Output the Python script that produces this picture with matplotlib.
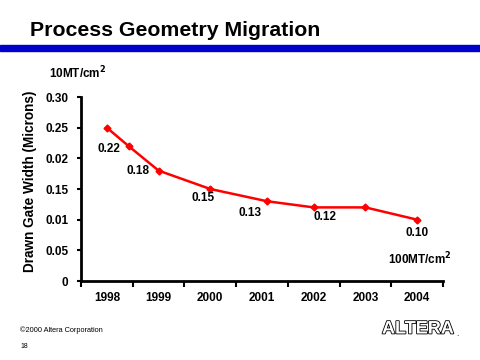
import matplotlib
matplotlib.use('Agg')
import matplotlib.pyplot as plt
import matplotlib.patheffects as pe

# data
jahre = ['1998', '1999', '2000', '2001', '2002', '2003', '2004']
pozycje = [1998, 1998.42, 1999, 2000, 2001.1, 2002, 2003, 2004]
szerokosc = [0.25, 0.22, 0.18, 0.15, 0.13, 0.12, 0.12, 0.10]
etykiety_y = ['0', '0.05', '0.01', '0.15', '0.02', '0.25', '0.30']
wartosci_y = [0, 0.05, 0.10, 0.15, 0.20, 0.25, 0.30]
# labels for points (index, text, pixel offset)
opisy = [(1, '0.22', (-20, -3)), (2, '0.18', (-21, 0)), (3, '0.15', (-7, -9)),
         (4, '0.13', (-17, -12)), (5, '0.12', (11, -10)), (7, '0.10', (0, -13))]

plt.rcParams['font.family'] = ['Liberation Sans', 'DejaVu Sans']

fig = plt.figure(figsize=(4.8, 3.6), dpi=100)
fig.patch.set_facecolor('white')

# title and blue bar
fig.text(30 / 480, 1 - 31 / 360, 'Process Geometry Migration', fontsize=15.3,
         fontweight='bold', va='center', ha='left')
fig.add_artist(plt.Rectangle((0, 1 - 51 / 360), 1, 6 / 360, color='#0000CC',
                             transform=fig.transFigure))

ax = fig.add_axes([81 / 480, 1 - 281 / 360, 362 / 480, 184 / 360])
ax.plot(pozycje, szerokosc, color='#FF0000', lw=1.8, marker='D', ms=3.5)

for i, t, off in opisy:
    ax.annotate(t, (pozycje[i], szerokosc[i]), xytext=off, textcoords='offset pixels',
                ha='center', va='center', fontsize=8.5, fontweight='bold')

ax.set_xlim(1997.5, 2004.5)
ax.set_ylim(0, 0.30)
ax.set_yticks(wartosci_y)
ax.set_yticklabels(etykiety_y, fontsize=8.5, fontweight='bold')
ax.set_xticks([1997.5 + k for k in range(8)])
ax.set_xticklabels([])
ax.set_xticks([1998 + k for k in range(7)], minor=True)
ax.set_xticklabels(jahre, minor=True, fontsize=8.5, fontweight='bold')
ax.tick_params(axis='x', which='major', length=4, width=1.5, direction='out')
ax.tick_params(axis='x', which='minor', length=0, pad=8)
ax.tick_params(axis='y', length=3, width=1.5, pad=6)
for s in ['top', 'right']:
    ax.spines[s].set_visible(False)
for s in ['left', 'bottom']:
    ax.spines[s].set_linewidth(2)

fig.text(30 / 480, 1 - 181 / 360, 'Drawn Gate Width (Microns)', rotation=90,
         fontsize=9.8, fontweight='bold', ha='center', va='center')
fig.text(78 / 480, 1 - 73 / 360, '10MT/cm$^\\mathbf{2}$', fontsize=8.5,
         fontweight='bold', ha='center', va='center')
fig.text(420 / 480, 1 - 259 / 360, '100MT/cm$^\\mathbf{2}$', fontsize=8.5,
         fontweight='bold', ha='center', va='center')

# footer
fig.text(20 / 480, 1 - 330 / 360, '\u00a92000 Altera Corporation', fontsize=5.3,
         ha='left', va='center')
fig.text(20 / 480, 1 - 347 / 360, '18', fontsize=5, ha='left', va='center')
logo = fig.text(418 / 480, 1 - 329 / 360, 'ALTERA', fontsize=13, fontweight='bold',
                color='white', ha='center', va='center')
logo.set_path_effects([pe.withStroke(linewidth=1.2, foreground='black')])
fig.text(456 / 480, 1 - 334 / 360, '.', fontsize=6, ha='left', va='center')

plt.savefig('out.png', dpi=100)
